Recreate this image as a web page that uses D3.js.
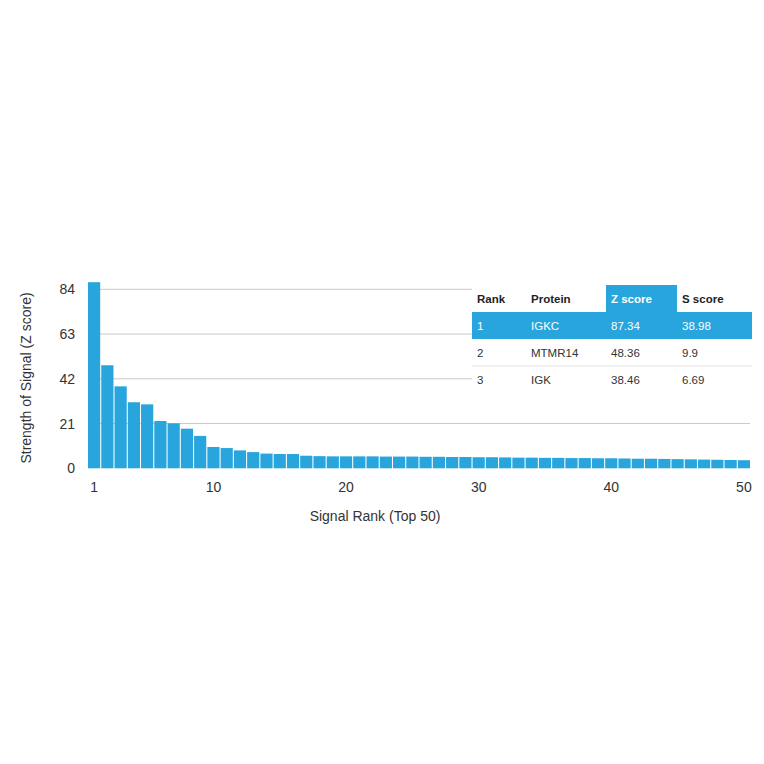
<!DOCTYPE html>
<html><head><meta charset="utf-8">
<script src="https://cdn.jsdelivr.net/npm/d3@7"></script>
<style>body{margin:0;background:#fff}text{font-family:"Helvetica Neue",Arial,"Liberation Sans",sans-serif}</style>
</head><body><svg width="764" height="764"></svg>
<script>
var ranks = d3.range(1, 51);
var zscores = [87.34, 48.36, 38.46, 31.0, 30.0, 22.2, 21.1, 18.6, 15.2, 10.0,
  9.5, 8.4, 7.6, 6.9, 6.7, 6.7, 5.9, 5.7, 5.6, 5.6,
  5.6, 5.6, 5.5, 5.5, 5.5, 5.4, 5.4, 5.3, 5.3, 5.2,
  5.2, 5.1, 5.0, 5.0, 4.9, 4.9, 4.8, 4.8, 4.7, 4.7,
  4.6, 4.5, 4.5, 4.4, 4.3, 4.2, 4.1, 4.0, 3.9, 3.8];
var yTicks = [0, 21, 42, 63, 84];
var xTicks = [1, 10, 20, 30, 40, 50];
var tableHead = ["Rank", "Protein", "Z score", "S score"];
var tableRows = [["1", "IGKC", "87.34", "38.98"], ["2", "MTMR14", "48.36", "9.9"], ["3", "IGK", "38.46", "6.69"]];

var blue = "#29a5dd";
var svg = d3.select("svg");
var x = d3.scaleBand().domain(ranks).range([88, 750]).paddingInner(0.08).paddingOuter(0);
var y = d3.scaleLinear().domain([0, 84]).range([468.3, 289.3]);

svg.selectAll(".grid").data(yTicks.slice(1)).enter().append("line")
  .attr("x1", 88).attr("x2", 750).attr("y1", d => y(d)).attr("y2", d => y(d))
  .attr("stroke", "#c8c8c8").attr("stroke-width", 1);

svg.selectAll(".bar").data(zscores).enter().append("rect")
  .attr("x", (d, i) => x(ranks[i])).attr("width", x.bandwidth())
  .attr("y", d => y(d)).attr("height", d => y(0) - y(d)).attr("fill", blue);

svg.selectAll(".yl").data(yTicks).enter().append("text")
  .attr("x", 75).attr("y", d => y(d) + 5).attr("text-anchor", "end")
  .attr("font-size", 14).attr("fill", "#333").text(d => d);
svg.selectAll(".xl").data(xTicks).enter().append("text")
  .attr("x", d => x(d) + x.bandwidth() / 2).attr("y", 492).attr("text-anchor", "middle")
  .attr("font-size", 14).attr("fill", "#333").text(d => d);

svg.append("text").attr("x", 375).attr("y", 521).attr("text-anchor", "middle")
  .attr("font-size", 14).attr("fill", "#333").text("Signal Rank (Top 50)");
svg.append("text").attr("transform", "translate(31,378) rotate(-90)").attr("text-anchor", "middle")
  .attr("font-size", 14).attr("fill", "#333").text("Strength of Signal (Z score)");

// table
var colX = [472, 526, 606, 677], tEnd = 752, rowH = 27, tTop = 285;
var tg = svg.append("g");
tg.append("rect").attr("x", colX[0]).attr("y", tTop).attr("width", tEnd - colX[0]).attr("height", rowH * 4).attr("fill", "#fff");
tg.append("rect").attr("x", colX[2]).attr("y", tTop).attr("width", colX[3] - colX[2]).attr("height", rowH).attr("fill", blue);
tg.append("rect").attr("x", colX[0]).attr("y", tTop + rowH).attr("width", tEnd - colX[0]).attr("height", rowH).attr("fill", blue);
tg.append("line").attr("x1", colX[0]).attr("x2", tEnd).attr("y1", tTop + rowH * 3).attr("y2", tTop + rowH * 3).attr("stroke", "#e2e2e2");
tg.selectAll(".th").data(tableHead).enter().append("text")
  .attr("x", (d, i) => colX[i] + 5).attr("y", tTop + 18).attr("font-size", 11.5).attr("font-weight", "bold")
  .attr("fill", (d, i) => i === 2 ? "#fff" : "#222").text(d => d);
tableRows.forEach(function(r, ri) {
  tg.selectAll(".r" + ri).data(r).enter().append("text")
    .attr("x", (d, i) => colX[i] + 5).attr("y", tTop + rowH * (ri + 1) + 18).attr("font-size", 11.5)
    .attr("fill", ri === 0 ? "#fff" : "#333").text(d => d);
});
</script></body></html>
